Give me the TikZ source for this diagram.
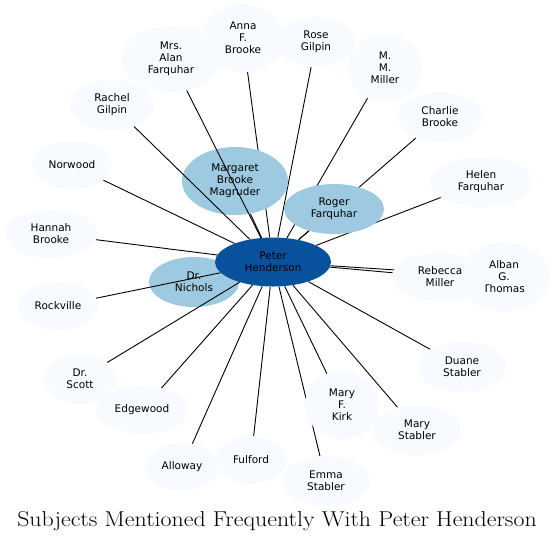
\documentclass[tikz,border=0pt]{standalone}
\usepackage{fontspec}
\newfontfamily\nodefont{DejaVu Sans}
\usetikzlibrary{shapes.geometric}
\definecolor{lightb}{HTML}{F7FBFF}
\definecolor{midb}{HTML}{9ECAE1}
\definecolor{darkb}{HTML}{08519C}
\pgfdeclarelayer{bg}
\pgfdeclarelayer{top}
\pgfsetlayers{bg,main,top}
\tikzset{
  nd/.style 2 args={ellipse, draw=none, fill=lightb, inner sep=0pt,
    minimum width=#1, minimum height=#2, align=center,
    font=\nodefont\fontsize{10.5}{12}\selectfont},
  ndmid/.style 2 args={nd={#1}{#2}, fill=midb},
  nddark/.style 2 args={nd={#1}{#2}, fill=darkb},
  lnk/.style={draw=black, line width=0.9pt},
}
\begin{document}
\begin{tikzpicture}[x=1pt,y=-1pt]
\useasboundingbox (0,0) rectangle (556,542);
% nodes
\node[ndmid={90pt}{50pt}] (nichols) at (194,282) {\raisebox{2pt}{\parbox{60pt}{\centering Dr.\\Nichols}}};
\node[nddark={116pt}{49pt}] (peter) at (273,262) {Peter\\Henderson};
\node[ndmid={106pt}{68pt}] (margaret) at (235,181) {Margaret\\Brooke\\Magruder};
\node[ndmid={100pt}{50pt}] (roger) at (334,209) {Roger\\Farquhar};
\node[nd={82pt}{68pt}] (anna) at (243,38) {Anna\\F.\\Brooke};
\node[nd={100pt}{66pt}] (mrsalan) at (171,59) {Mrs.\\Alan\\Farquhar};
\node[nd={84pt}{50pt}] (rachel) at (112,105) {Rachel\\Gilpin};
\node[nd={80pt}{48pt}] (norwood) at (72,165) {Norwood};
\node[nd={92pt}{48pt}] (hannah) at (51,234) {Hannah\\Brooke};
\node[nd={78pt}{50pt}] (rose) at (316,42) {Rose\\Gilpin};
\node[nd={74pt}{68pt}] (mmmiller) at (385,68) {M.\\M.\\Miller};
\node[nd={86pt}{50pt}] (charlie) at (440,117) {Charlie\\Brooke};
\node[nd={102pt}{50pt}] (helen) at (481,182) {Helen\\Farquhar};
\node[nd={92pt}{68pt}] (alban) at (504,277) {Alban\\G.\\Thomas};
\node[nd={96pt}{49pt}] (rebecca) at (440,277) {Rebecca\\Miller};
\node[nd={88pt}{50pt}] (duane) at (462,367) {Duane\\Stabler};
\node[nd={74pt}{68pt}] (marykirk) at (342,405) {Mary\\F.\\Kirk};
\node[nd={88pt}{50pt}] (marystabler) at (417,430) {Mary\\Stabler};
\node[nd={88pt}{50pt}] (emma) at (326,481) {Emma\\Stabler};
\node[nd={72pt}{48pt}] (fulford) at (251,460) {Fulford};
\node[nd={74pt}{48pt}] (alloway) at (182,467) {Alloway};
\node[nd={92pt}{48pt}] (edgewood) at (142,410) {Edgewood};
\node[nd={72pt}{50pt}] (drscott) at (80,379) {Dr.\\Scott};
\node[nd={80pt}{48pt}] (rockville) at (58,306) {Rockville};
% title
\node[anchor=base, xscale=1.11, font=\fontsize{21.5}{24}\selectfont] (title) at (277,526)
  {Subjects Mentioned Frequently With Peter Henderson};
% edges below nodes
\begin{pgfonlayer}{bg}
\foreach \t in {nichols,margaret,roger,anna,norwood,hannah,rose,mmmiller,charlie,
  helen,alban,rebecca,duane,marykirk,marystabler,emma,fulford,alloway,edgewood}
  \draw[lnk] (peter) -- (\t);
\end{pgfonlayer}
% edges drawn over the nodes they cross
\begin{pgfonlayer}{top}
\foreach \t in {mrsalan,rachel,rockville,drscott}
  \draw[lnk] (peter) -- (\t);
\end{pgfonlayer}
\end{tikzpicture}
\end{document}
